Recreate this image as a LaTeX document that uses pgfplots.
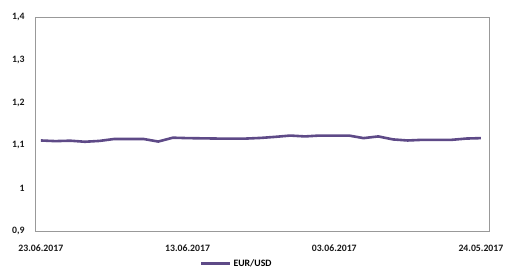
\documentclass[border=0pt]{standalone}
\usepackage{pgfplots}
\pgfplotsset{compat=1.18}
\usepackage{fontspec}
\setmainfont{Carlito}
\definecolor{lineC}{HTML}{5E4A87}
\pgfplotstableread{
idx val
0 1.1115
1 1.1100
2 1.1110
3 1.1085
4 1.1105
5 1.1150
6 1.1150
7 1.1150
8 1.1090
9 1.1180
10 1.1170
11 1.1165
12 1.1160
13 1.1160
14 1.1160
15 1.1175
16 1.1200
17 1.1230
18 1.1210
19 1.1230
20 1.1230
21 1.1230
22 1.1170
23 1.1210
24 1.1140
25 1.1115
26 1.1130
27 1.1130
28 1.1130
29 1.1160
30 1.1170
}\eurusd
\begin{document}
\begin{tikzpicture}
\begin{axis}[name=ax, scale only axis, width=454bp, height=214bp,
  xmin=-0.4, xmax=30.55, ymin=0.9, ymax=1.4,
  ytick={0.9,1,1.1,1.2,1.3,1.4},
  yticklabels={{0,9},{1},{1,1},{1,2},{1,3},{1,4}},
  xtick={0,10,20,30},
  xticklabels={23.06.2017,13.06.2017,03.06.2017,24.05.2017},
  major tick length=0pt,
  axis line style={draw=black!40, line width=0.8bp},
  tick label style={font=\fontsize{9.8}{11}\selectfont\bfseries, text=black!90},
  yticklabel style={xshift=-7bp},
  xticklabel style={yshift=-10.5bp},
  legend style={at={(0.363,-0.152)}, anchor=west, draw=none, fill=none,
    font=\fontsize{9.8}{11}\selectfont\bfseries, inner sep=0pt,
    /tikz/every even column/.append style={column sep=0pt}},
  legend image code/.code={\draw[#1] (0bp,0bp) -- (29bp,0bp);},
]
\addplot[lineC, line width=2.6bp, line join=round] table[x=idx, y=val] {\eurusd};
\addlegendentry{EUR/USD}
\end{axis}
\pgfresetboundingbox
\path ([xshift=-35bp,yshift=-38bp]ax.south west) rectangle ([xshift=16bp,yshift=17bp]ax.north east);
\end{tikzpicture}
\end{document}
